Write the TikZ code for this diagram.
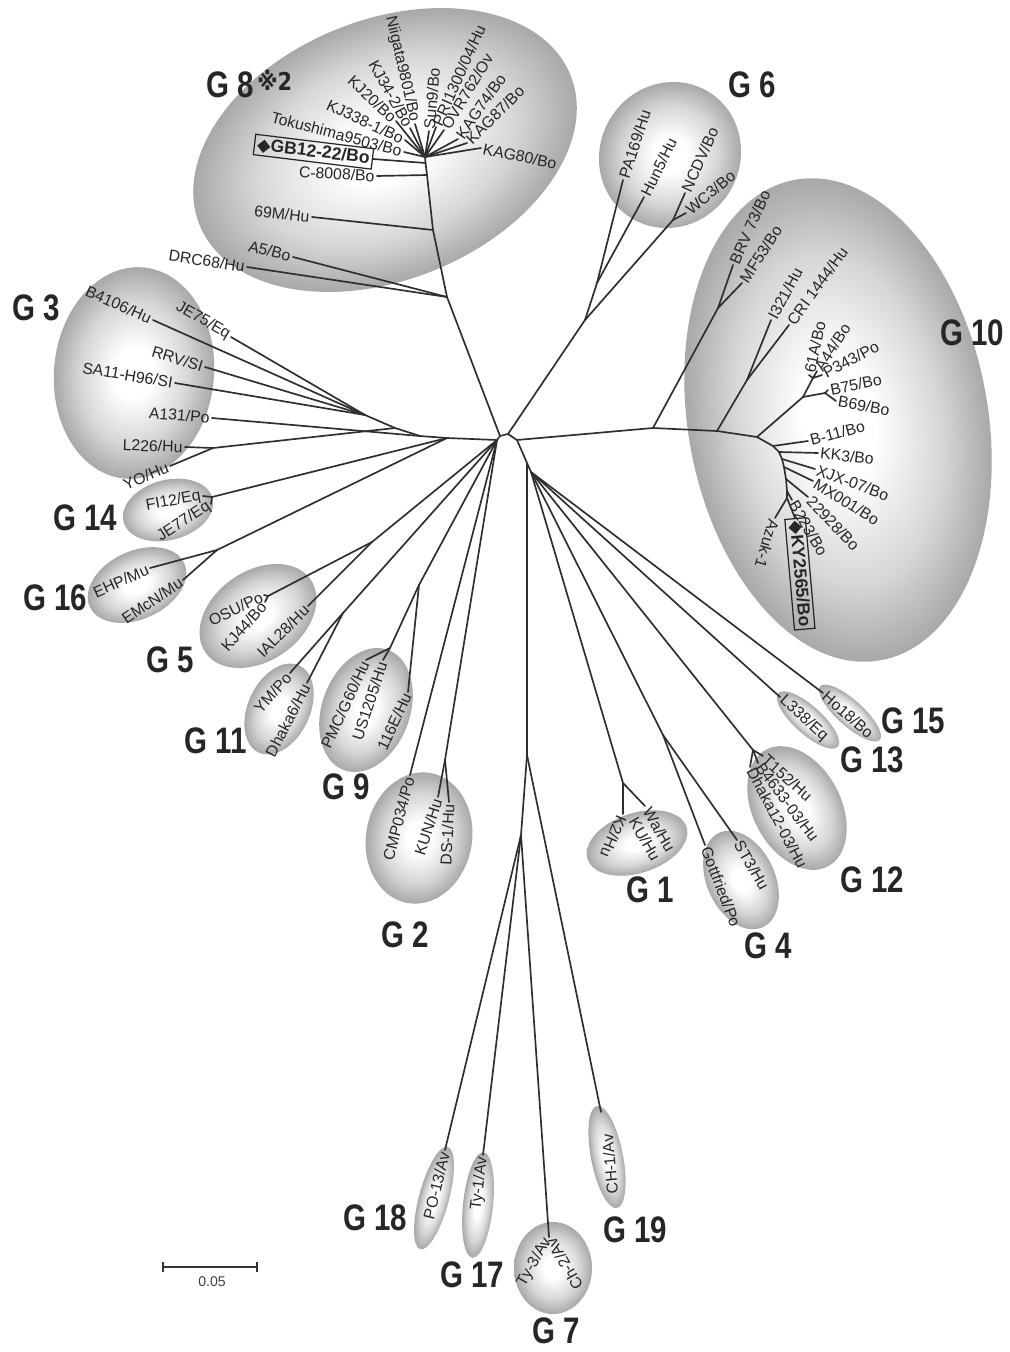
\documentclass[tikz,border=0pt]{standalone}
\usepackage{fontspec}
\setmainfont{Liberation Sans}
\newfontfamily\djv{DejaVu Sans}
\usetikzlibrary{calc}
\pgfdeclareradialshading{ellsh}{\pgfpoint{0bp}{0bp}}{color(0bp)=(white); color(6bp)=(white); color(17bp)=(black!16); color(25bp)=(black!34); color(50bp)=(black!34)}
\tikzset{
  br/.style={line width=0.95pt, draw=black!82, line cap=round, line join=round},
  lbl/.style={font=\fontsize{9}{10}\selectfont, inner sep=1.2pt, text=black!85},
  boxlbl/.style={draw=black!85, line width=0.7pt, font=\fontsize{10}{11}\selectfont\bfseries, inner sep=1.6pt},
  glbl/.style={font=\fontsize{21}{21}\selectfont\bfseries, xscale=0.8, inner sep=0pt, text=black!85},
  autolbl/.code={%
    \pgfmathsetmacro\lblang{#1}%
    \pgfmathtruncatemacro\lblflip{abs(\lblang)>90 ? 1 : 0}%
    \ifnum\lblflip=1
      \pgfmathsetmacro\lblrot{\lblang-180}%
      \pgfkeysalso{anchor=east,rotate=\lblrot}%
    \else
      \pgfkeysalso{anchor=west,rotate=\lblang}%
    \fi}
}
% auto-oriented leaf: name, parent, tip x,y, text
\newcommand\leafa[4]{%
  \coordinate (#1t) at (#3);
  \draw[br] (#2) -- (#1t);
  \path let \p1=($(#1t)-(#2)$), \n1={atan2(\y1,\x1)} in
    (#1t) node[lbl, autolbl=\n1] (#1) {#4};
}
% manual leaf: name, parent, tip x,y, options, text
\newcommand\leafm[5]{%
  \coordinate (#1t) at (#3);
  \draw[br] (#2) -- (#1t);
  \node[lbl,#4] (#1) at (#1t) {#5};
}
% group ellipse: cx, cy, rx, ry, angle
\newcommand\grpell[5]{%
  \shade[shading=ellsh, transform canvas={rotate around={#5:(#1,#2)}}] (#1,#2) ellipse [x radius=#3, y radius=#4];
}
\begin{document}
\begin{tikzpicture}[x=0.02cm, y=-0.02cm]
\useasboundingbox (0,0) rectangle (1010,1352);
\fill[white] (0,0) rectangle (1010,1352);

% ---------- group ellipses ----------
\grpell{385}{150}{200}{130}{22}
\grpell{670}{155}{74}{70}{60}
\grpell{838}{420}{244}{150}{-80}
\grpell{134}{373}{106}{80}{85}
\grpell{168}{510}{46}{30}{15}
\grpell{137}{585}{52}{34}{25}
\grpell{258}{616}{64}{45}{35}
\grpell{279}{709}{48}{31}{65}
\grpell{366}{710}{64}{44}{70}
\grpell{419}{838}{66}{53}{80}
\grpell{637}{843}{52}{30}{18}
\grpell{741}{880}{52}{34}{-65}
\grpell{797}{808}{66}{44}{-62}
\grpell{808}{720}{40}{14}{-42}
\grpell{850}{713}{40}{13}{-42}
\grpell{434}{1198}{53}{15}{75}
\grpell{478}{1205}{53}{15}{84}
\grpell{553}{1268}{46}{39}{90}
\grpell{607}{1157}{52}{16}{101}

% ---------- centre ----------
\coordinate (c0) at (500,436);
\coordinate (c1) at (508,434);
\coordinate (c2) at (517,440);
\coordinate (LL) at (497,440);
\coordinate (R1) at (527,463);
\coordinate (R2) at (531,472);
\draw[br] (LL) -- (c0) -- (c1) -- (c2) -- (R1) -- (R2);

% ---------- G8 ----------
\coordinate (t1) at (425,157);
\coordinate (t2) at (425.5,163);
\coordinate (t3) at (427,175);
\coordinate (t4) at (433,230);
\coordinate (t5) at (447,297);
\draw[br] (c0) -- (t5) -- (t4) -- (t3) -- (t2) -- (t1);
\leafm{lNii}{t1}{415,124}{anchor=east,rotate=-77}{Niigata9801/Bo}
\leafm{lKJa}{t1}{410,128}{anchor=east,rotate=-61}{KJ34-2/Bo}
\leafm{lKJb}{t1}{396,121}{anchor=east,rotate=-43}{KJ20/Bo}
\leafm{lKJc}{t1}{405,140}{anchor=east,rotate=-25}{KJ338-1/Bo}
\leafm{lTok}{t1}{404,152}{anchor=east,rotate=-15}{Tokushima9503/Bo}
\leafm{lSun}{t1}{429,131}{anchor=west,rotate=85}{Sun9/Bo}
\leafm{lPRI}{t1}{436,127}{anchor=west,rotate=66}{PRI1300/04/Hu}
\leafm{lOVR}{t1}{444,130}{anchor=west,rotate=59}{OVR762/Ov}
\leafm{lKGa}{t1}{458,139}{anchor=west,rotate=55}{KAG74/Bo}
\leafm{lKGb}{t1}{467,143}{anchor=west,rotate=45}{KAG87/Bo}
\leafm{lKGc}{t1}{481,148}{anchor=west,rotate=-12}{KAG80/Bo}
\leafm{lGB}{t2}{373,159}{boxlbl,anchor=east,rotate=-7}{{\djv ◆}GB12-22/Bo}
\leafm{lC80}{t3}{377,176}{anchor=east,rotate=-3}{C-8008/Bo}
\leafa{lSixM}{t4}{312,217}{69M/Hu}
\leafa{lAfive}{t5}{293,257}{A5/Bo}
\leafa{lDRC}{t5}{247,267}{DRC68/Hu}

% ---------- G6 ----------
\coordinate (g6r) at (585,320);
\coordinate (g6a) at (597,283);
\coordinate (g6b) at (673,220);
\draw[br] (c1) -- (g6r) -- (g6a);
\draw[br] (g6r) -- (g6b);
\leafm{lPA}{g6a}{623,180}{anchor=west,rotate=72}{PA169/Hu}
\leafm{lHun}{g6a}{644,197}{anchor=west,rotate=64}{Hun5/Hu}
\leafm{lNC}{g6b}{685,193}{anchor=west,rotate=66}{NCDV/Bo}
\leafm{lWC}{g6b}{686,213}{anchor=west,rotate=40}{WC3/Bo}

% ---------- G10 ----------
\coordinate (gR0) at (653,428);
\coordinate (gI0) at (717,431);
\coordinate (gR) at (757,437);
\coordinate (gB) at (718,308);
\coordinate (gI) at (747,380);
\coordinate (gA) at (803,397);
\coordinate (gSA) at (813,378);
\coordinate (gBs) at (825,393);
\draw[br] (c2) -- (gR0) -- (gI0) -- (gR);
\draw[br] (gR0) -- (gB);
\draw[br] (gI0) -- (gI);
\draw[br] (gR) -- (gA) -- (gSA);
\draw[br] (gA) -- (gBs);
\leafm{lBRV}{gB}{733,265}{anchor=west,rotate=66}{BRV 73/Bo}
\leafm{lMF}{gB}{742,283}{anchor=west,rotate=57}{MF53/Bo}
\leafm{lIa}{gI}{771,320}{anchor=west,rotate=62}{I321/Hu}
\leafm{lCRI}{gI}{789,325}{anchor=west,rotate=54}{CRI 1444/Hu}
\leafm{lSixA}{gSA}{809,375}{anchor=west,rotate=78}{61A/Bo}
\leafm{lAfour}{gSA}{817,371}{anchor=west,rotate=57}{A44/Bo}
\leafm{lP}{gSA}{822,375}{anchor=west,rotate=28}{P343/Po}
\leafm{lBsf}{gBs}{828,390}{anchor=west,rotate=11}{B75/Bo}
\leafm{lBsn}{gBs}{836,401}{anchor=west,rotate=-10}{B69/Bo}
\coordinate (k1) at (773,446);
\coordinate (k2) at (779,452);
\coordinate (k3) at (782,459);
\coordinate (k4) at (784,467);
\coordinate (k5) at (786,479);
\coordinate (k6) at (787,491);
\coordinate (k7) at (787,498);
\draw[br] (gR) -- (k1) -- (k2) -- (k3) -- (k4) -- (k5) -- (k6) -- (k7);
\leafm{lBel}{k1}{808,441}{anchor=west,rotate=15}{B-11/Bo}
\leafm{lKK}{k2}{818,453}{anchor=west,rotate=-6}{KK3/Bo}
\leafm{lXJX}{k3}{815,469}{anchor=west,rotate=-20}{XJX-07/Bo}
\leafm{lMX}{k4}{813,481}{anchor=west,rotate=-32}{MX001/Bo}
\leafm{lTwo}{k5}{808,497}{anchor=west,rotate=-46}{22928/Bo}
\leafm{lBtt}{k6}{792,500}{anchor=west,rotate=-60}{B223/Bo}
\leafm{lKY}{k7}{795,518}{boxlbl,anchor=west,rotate=-85}{{\djv ◆}KY2565/Bo}
\leafm{lAz}{k7}{775,518}{anchor=west,rotate=-107}{Azuk-1}

% ---------- G3, G14, G16 ----------
\coordinate (L1) at (447,438);
\coordinate (L2) at (420,436);
\coordinate (g3b) at (395,428);
\coordinate (g3a) at (365,415);
\coordinate (g3y) at (213,448);
\draw[br] (LL) -- (L1) -- (L2) -- (g3b) -- (g3a);
\draw[br] (g3b) -- (g3y);
\leafa{lBfo}{g3a}{153,320}{B4106/Hu}
\leafa{lJEa}{g3a}{231,337}{JE75/Eq}
\leafa{lRRV}{g3a}{205,367}{RRV/SI}
\leafa{lSA}{g3a}{175,383}{SA11-H96/SI}
\leafa{lAot}{L2}{212,418}{A131/Po}
\leafa{lLtt}{g3y}{185,447}{L226/Hu}
\leafa{lYO}{g3y}{170,466}{YO/Hu}
\coordinate (g14) at (212,497);
\draw[br] (L1) -- (g14);
\leafm{lFI}{g14}{203,496}{anchor=east,rotate=10}{FI12/Eq}
\leafm{lJEb}{g14}{211,504}{anchor=east,rotate=33}{JE77/Eq}
\coordinate (g16) at (217,550);
\draw[br] (L1) -- (g16);
\leafm{lEHP}{g16}{150,568}{anchor=east,rotate=24}{EHP/Mu}
\leafm{lEMc}{g16}{183,580}{anchor=east,rotate=34}{EMcN/Mu}

% ---------- G5, G11, G9, G2 ----------
\coordinate (g5) at (372,542);
\coordinate (g5a) at (268,596);
\draw[br] (LL) -- (g5) -- (g5a);
\leafa{lIAL}{g5}{308,606}{IAL28/Hu}
\leafm{lOSU}{g5a}{264,595}{anchor=east,rotate=26}{OSU/Po}
\leafm{lKJd}{g5a}{265,602}{anchor=east,rotate=49}{KJ44/Bo}
\coordinate (g11) at (343,613);
\draw[br] (LL) -- (g11);
\leafa{lYM}{g11}{290,673}{YM/Po}
\leafa{lDhs}{g11}{307,683}{Dhaka6/Hu}
\coordinate (g9) at (419,585);
\coordinate (g9a) at (390,648);
\draw[br] (LL) -- (g9) -- (g9a);
\leafm{lOne}{g9}{408,692}{anchor=east,rotate=65}{116E/Hu}
\leafm{lPMC}{g9a}{366,660}{anchor=east,rotate=65}{PMC/G60/Hu}
\leafm{lUS}{g9a}{383,660}{anchor=east,rotate=72}{US1205/Hu}
\coordinate (g2) at (445,760);
\draw[br] (LL) -- (g2);
\leafa{lCMP}{LL}{410,775}{CMP034/Po}
\leafm{lKUN}{g2}{438,797}{anchor=east,rotate=72}{KUN/Hu}
\leafm{lDS}{g2}{449,802}{anchor=east,rotate=87}{DS-1/Hu}

% ---------- avian ----------
\coordinate (av1) at (527,755);
\coordinate (av2) at (521,835);
\draw[br] (R1) -- (av1) -- (av2);
\leafa{lPO}{av2}{445,1150}{PO-13/Av}
\leafa{lTyo}{av2}{483,1155}{Ty-1/Av}
\coordinate (g7) at (549,1237);
\draw[br] (av2) -- (g7);
\node[lbl,anchor=east,rotate=60] (lTyt) at (g7) {Ty-3/Av};
\node[lbl,anchor=east,rotate=120] (lCh) at (g7) {Ch-2/Av};
\coordinate (lCHt) at (601,1112);
\draw[br] (av1) -- (lCHt);
\node[lbl,anchor=east,rotate=95] (lCH) at (607,1132) {CH-1/Av};

% ---------- lower right fan ----------
\coordinate (g1) at (623,783);
\coordinate (g1b) at (645,806);
\coordinate (g4) at (663,735);
\coordinate (g12) at (753,750);
\draw[br] (R2) -- (g1) -- (g1b);
\draw[br] (R2) -- (g4);
\draw[br] (R2) -- (g12);
\leafa{lLtte}{R2}{780,697}{L338/Eq}
\leafm{lHo}{R2}{823,693}{anchor=west,rotate=-41}{Ho18/Bo}
\leafm{lKt}{g1}{623,814}{anchor=west,rotate=-113}{K2/Hu}
\node[lbl,anchor=west,rotate=-60] (lWa) at (646,807) {Wa/Hu};
\node[lbl,anchor=west,rotate=-60] (lKU) at (632,817) {KU/Hu};
\leafa{lGot}{g4}{705,845}{Gottfried/Po}
\leafm{lST}{g4}{737,840}{anchor=west,rotate=-60}{ST3/Hu}
\leafm{lT}{g12}{763,756}{anchor=west,rotate=-42}{T152/Hu}
\leafm{lBff}{g12}{758,763}{anchor=west,rotate=-53}{B4633-03/Hu}
\leafm{lDht}{g12}{750,767}{anchor=west,rotate=-62}{Dhaka12-03/Hu}

% ---------- group labels ----------
\node[glbl] (gl8) at (230,85) {G 8};
\node[font=\fontsize{14}{14}\selectfont\djv\bfseries, text=black!85, anchor=west, inner sep=0pt, xscale=0.85] (gl8s) at (257,80) {※2};
\node[glbl] (gl6) at (752,85) {G 6};
\node[glbl] (gl10) at (972,333) {G 10};
\node[glbl] (gl3) at (36,308) {G 3};
\node[glbl] (gl14) at (85,518) {G 14};
\node[glbl] (gl16) at (55,598) {G 16};
\node[glbl] (gl5) at (170,660) {G 5};
\node[glbl] (gl11) at (216,741) {G 11};
\node[glbl] (gl9) at (346,787) {G 9};
\node[glbl] (gl2) at (405,935) {G 2};
\node[glbl] (gl1) at (650,890) {G 1};
\node[glbl] (gl4) at (768,946) {G 4};
\node[glbl] (gl12) at (872,880) {G 12};
\node[glbl] (gl13) at (872,760) {G 13};
\node[glbl] (gl15) at (913,721) {G 15};
\node[glbl] (gl18) at (375,1218) {G 18};
\node[glbl] (gl17) at (472,1275) {G 17};
\node[glbl] (gl7) at (556,1331) {G 7};
\node[glbl] (gl19) at (635,1230) {G 19};

% ---------- scale bar ----------
\coordinate (sbA) at (163,1267);
\coordinate (sbB) at (257,1267);
\draw[line width=0.8pt, black!80] (sbA) -- (sbB);
\draw[line width=0.8pt, black!80] ($(sbA)+(0,-5)$) -- ($(sbA)+(0,5)$);
\draw[line width=0.8pt, black!80] ($(sbB)+(0,-5)$) -- ($(sbB)+(0,5)$);
\node[font=\fontsize{8}{9}\selectfont, text=black!75] (sbL) at (212,1282) {0.05};
\end{tikzpicture}
\end{document}
